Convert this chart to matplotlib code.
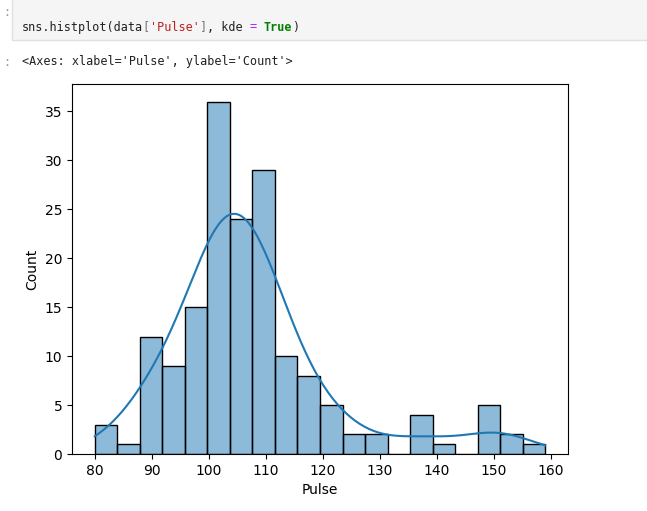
import numpy as np
import matplotlib
matplotlib.use("Agg")
import matplotlib.pyplot as plt
import seaborn as sns
from matplotlib.patches import Rectangle

# histogram (20 bins from 80 to 159)
bin_lo = 80
bin_hi = 159
counts = [3, 1, 12, 9, 15, 36, 24, 29, 10, 8, 5, 2, 2, 0, 4, 1, 0, 5, 2, 1]

code_parts = [
    ("sns.histplot(data", "#212121", "normal"),
    ("[", "#7a7a7a", "normal"),
    ("'Pulse'", "#BA2121", "normal"),
    ("]", "#7a7a7a", "normal"),
    (", kde ", "#212121", "normal"),
    ("=", "#AA22FF", "normal"),
    (" ", "#212121", "normal"),
    ("True", "#008000", "bold"),
    (")", "#212121", "normal"),
]
out_text = "<Axes: xlabel='Pulse', ylabel='Count'>"

W, H = 647, 511
fig = plt.figure(figsize=(W / 100, H / 100), dpi=100)

# notebook cell chrome
fig.patches.append(Rectangle((12 / W, 1 - 40 / H), 1, 40 / H + 0.01,
                             transform=fig.transFigure, facecolor="#f5f5f5",
                             edgecolor="#e0e0e0", lw=1))
mono = "DejaVu Sans Mono"
fs = 8.5
cw = 0.602 * fs * 100 / 72 / W
x = 22 / W
for txt, col, wt in code_parts:
    fig.text(x, 1 - 27 / H, txt, color=col, fontweight=wt, family=mono,
             fontsize=fs, va="center", ha="left")
    x += len(txt) * cw
fig.text(22 / W, 1 - 62 / H, out_text, color="#212121", family=mono,
         fontsize=fs, va="center", ha="left")
fig.text(3 / W, 1 - 12 / H, ":", color="#999999", family=mono, fontsize=fs, va="center")
fig.text(3 / W, 1 - 62 / H, ":", color="#999999", family=mono, fontsize=fs, va="center")

ax = fig.add_axes([72 / W, (H - 454) / H, 496 / W, 370 / H])

edges = np.linspace(bin_lo, bin_hi, len(counts) + 1)
centers = (edges[:-1] + edges[1:]) / 2
pulse = np.repeat(centers, counts)

sns.histplot(pulse, bins=edges, kde=True, ax=ax,
             kde_kws={"cut": 0.35, "bw_adjust": 1.08})
ax.set_xlabel("Pulse")
ax.set_ylabel("Count")
ax.set_xticks([80, 90, 100, 110, 120, 130, 140, 150, 160])
ax.set_ylim(0, 37.8)

fig.savefig("out.png", dpi=100)
